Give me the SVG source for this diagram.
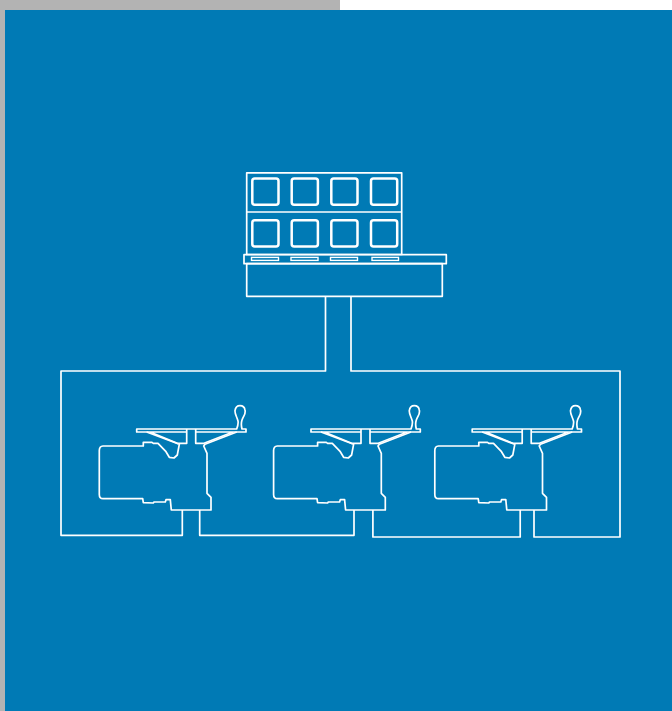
<svg xmlns="http://www.w3.org/2000/svg" width="672" height="711" viewBox="0 0 672 711">
<style>
.l{fill:none;stroke:#fff;stroke-width:1.7;stroke-linejoin:round}
.s{fill:none;stroke:#fff;stroke-width:2.5}
.t{fill:none;stroke:#fff;stroke-width:1.4}
</style>
<defs>
<g id="unit">
<path class="l" d="M143.300 446H103Q99.300 446.300 99.300 450.500V494.500Q99.300 498.700 103 498.700H142.700L143.300 502.700L153.300 503L154 502H165.300L166 499.700H170.300L171.300 510H211V497.300L207 493.300V453.300L203.700 446L205 444.300L236.700 432H246V429H242C241 425 241 423 242 420C244 415 246 414 245 410C244.500 407 242 405.700 240 405.700C238 405.700 235.500 407 235 410.700C234.700 414 237 417 238 421C238.500 424 237.500 427 236.700 429H136.700V432H146.700L179.300 444.300L177.300 455L174 458L169.300 457.300L166 451.700L158 443.300H153.300L152 442.300H143.300Z"/>
<path class="l" d="M146.700 432H186.700M150 432L177.300 443.300H186.700V429M195.700 429V443.300H204L233 432M195.700 432H236.700"/>
</g>
</defs>
<rect width="672" height="711" fill="#fff"/>
<rect width="340" height="10" fill="#b3b3b3"/>
<rect width="5" height="711" fill="#b3b3b3"/>
<rect x="5" y="10" width="667" height="701" fill="#007ab5"/>
<g id="connectors">
<path class="l" d="M325.500 296.300V371H61V535.300H182.300V510"/>
<path class="l" d="M199.700 510V535.300H354V510"/>
<path class="l" d="M372.900 510V537H520.200V510"/>
<path class="l" d="M534 510V537H620V371H351V296.300"/>
</g>
<g id="controller">
<rect class="l" x="246.700" y="172.800" width="155" height="81.700"/>
<path class="l" d="M246.700 212H401.700"/>
<rect class="l" x="244" y="254.700" width="202.300" height="9"/>
<rect class="l" x="246.700" y="263.700" width="195.600" height="32.600"/>
<g class="s">
<rect x="252.300" y="178.500" width="26.200" height="26.200" rx="2.500"/>
<rect x="291.700" y="178.500" width="26.200" height="26.200" rx="2.500"/>
<rect x="331.300" y="178.500" width="26.200" height="26.200" rx="2.500"/>
<rect x="371" y="178.500" width="26.200" height="26.200" rx="2.500"/>
<rect x="252.300" y="220.200" width="26.200" height="26.200" rx="2.500"/>
<rect x="291.700" y="220.200" width="26.200" height="26.200" rx="2.500"/>
<rect x="331.300" y="220.200" width="26.200" height="26.200" rx="2.500"/>
<rect x="371" y="220.200" width="26.200" height="26.200" rx="2.500"/>
</g>
<g class="t">
<rect x="251.500" y="257.400" width="27" height="3"/>
<rect x="291" y="257.400" width="27" height="3"/>
<rect x="330.500" y="257.400" width="27" height="3"/>
<rect x="372" y="257.400" width="26.500" height="3"/>
</g>
</g>
<g id="module-1"><use href="#unit"/></g>
<g id="module-2"><use href="#unit" transform="translate(174.300 0)"/></g>
<g id="module-3"><use href="#unit" transform="translate(335.500 0)"/></g>
</svg>
